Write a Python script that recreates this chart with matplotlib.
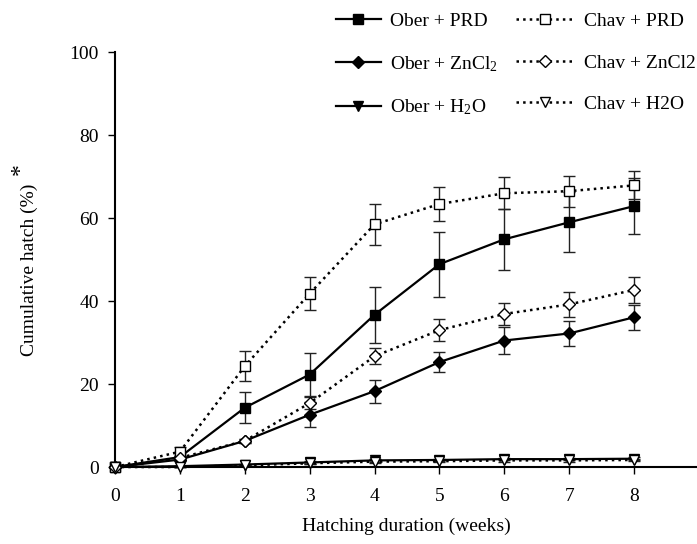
import matplotlib
matplotlib.use("Agg")
import matplotlib.pyplot as plt

plt.rcParams['font.family'] = ['Liberation Serif', 'DejaVu Serif']
plt.rcParams['mathtext.fontset'] = 'custom'
plt.rcParams['mathtext.rm'] = 'Liberation Serif'
plt.rcParams['mathtext.it'] = 'Liberation Serif:italic'

weeks = [0, 1, 2, 3, 4, 5, 6, 7, 8]

ober_prd = [0, 2.4, 14.3, 22.3, 36.7, 48.9, 54.9, 59.0, 62.9]
ober_prd_err = [0, 0.3, 3.8, 5.1, 6.7, 7.8, 7.3, 7.2, 6.8]
chav_prd = [0, 3.7, 24.3, 41.8, 58.5, 63.4, 66.0, 66.5, 67.9]
chav_prd_err = [0, 1.2, 3.6, 3.9, 4.9, 4.1, 3.9, 3.7, 3.4]

ober_zn = [0, 1.8, 6.3, 12.6, 18.3, 25.3, 30.5, 32.2, 36.1]
ober_zn_err = [0, 0.4, 0.4, 3.0, 2.8, 2.4, 3.2, 3.1, 3.0]
chav_zn = [0, 2.2, 6.3, 15.4, 26.7, 33.0, 36.9, 39.2, 42.7]
chav_zn_err = [0, 0.5, 0.5, 1.5, 1.9, 2.7, 2.7, 3.1, 3.2]

ober_h2o = [0, 0.2, 0.6, 1.1, 1.6, 1.7, 1.9, 1.9, 2.0]
ober_h2o_err = [0, 0.1, 0.2, 0.3, 0.3, 0.3, 0.3, 0.3, 0.3]
chav_h2o = [0, 0.0, 0.4, 0.9, 1.3, 1.4, 1.6, 1.6, 1.7]
chav_h2o_err = [0, 0.1, 0.2, 0.2, 0.3, 0.3, 0.3, 0.3, 0.3]

series = [
    ("Ober + PRD", ober_prd, ober_prd_err, 's', 'black', '-'),
    ("Ober + ZnCl$_2$", ober_zn, ober_zn_err, 'D', 'black', '-'),
    ("Ober + H$_2$O", ober_h2o, ober_h2o_err, 'v', 'black', '-'),
    ("Chav + PRD", chav_prd, chav_prd_err, 's', 'white', ':'),
    ("Chav + ZnCl2", chav_zn, chav_zn_err, 'D', 'white', ':'),
    ("Chav + H2O", chav_h2o, chav_h2o_err, 'v', 'white', ':'),
]

fig = plt.figure(figsize=(6.97, 5.44), dpi=100)
ax = fig.add_axes([0.165, 0.1415, 0.835, 0.7625])

handles = []
for label, vals, errs, mk, fc, ls in series:
    ms = 6 if mk == 'D' else 7
    ax.errorbar(weeks, vals, yerr=errs, fmt='none', ecolor='#222222',
                elinewidth=1.0, capsize=4, capthick=1.0, zorder=2, clip_on=False)
    h, = ax.plot(weeks, vals, linestyle=ls, color='black',
                 lw=1.6 if ls == '-' else 1.8, marker=mk, ms=ms,
                 markerfacecolor=fc, markeredgecolor='black', markeredgewidth=1.0,
                 label=label, zorder=3, clip_on=False)
    handles.append(h)

ax.set_xlim(0, 8.97)
ax.set_ylim(0, 100)
ax.set_xticks(weeks)
ax.set_yticks([0, 20, 40, 60, 80, 100])
ax.spines['top'].set_visible(False)
ax.spines['right'].set_visible(False)
ax.spines['left'].set_linewidth(1.5)
ax.spines['bottom'].set_linewidth(1.5)
ax.tick_params(axis='both', direction='out', length=5, width=1, labelsize=14, colors='black')
ax.tick_params(axis='x', pad=10)
ax.tick_params(axis='y', pad=6.5)

ax.set_xlabel("Hatching duration (weeks)", fontsize=14, labelpad=9.5)
ax.set_ylabel("Cumulative hatch (%)", fontsize=14, labelpad=23)
ax.yaxis.label.set_y(0.475)
fig.text(0.0287, 1 - 169 / 544, "*", fontsize=17, rotation=90, ha='center', va='center')

# two legend columns, each with its own handle length
leg_kw = dict(frameon=False, fontsize=14, numpoints=1, labelspacing=1.23, handletextpad=0.5)
fig.legend(handles=handles[:3], loc='upper left', bbox_to_anchor=(0.457, 1.009),
           handlelength=2.3, **leg_kw)
fig.legend(handles=handles[3:], loc='upper left', bbox_to_anchor=(0.7147, 1.009),
           handlelength=3.0, **leg_kw)

fig.savefig("out.png", dpi=100)
